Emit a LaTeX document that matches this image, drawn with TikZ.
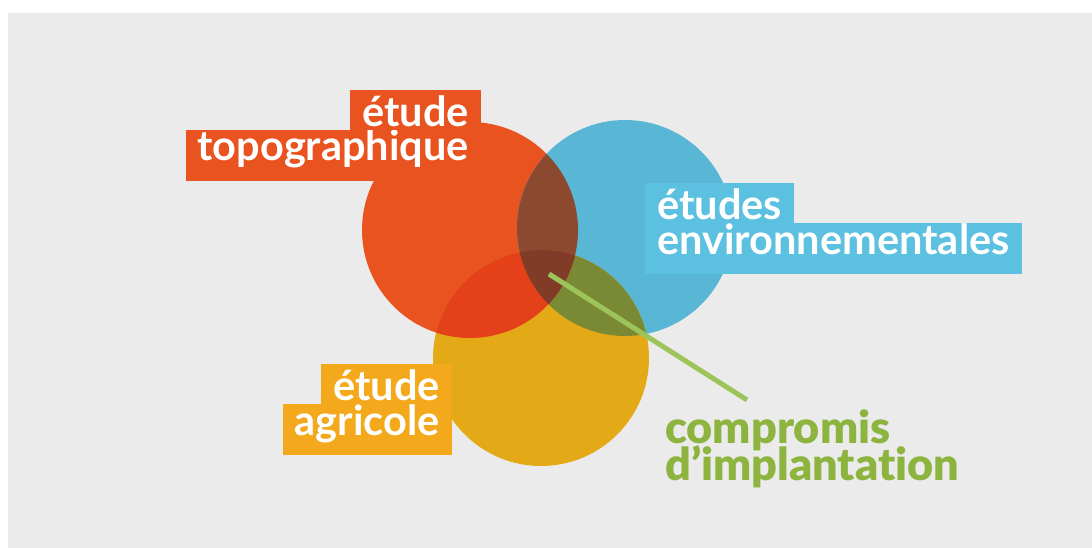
\documentclass[tikz,border=0pt]{standalone}
\usepackage{fontspec}
\setmainfont{Lato}
\newfontfamily\heavyfont{Lato Black}[Ligatures={NoCommon}]
\usetikzlibrary{positioning}

\definecolor{bgGray}{HTML}{EBEBEB}
\definecolor{topoOrange}{HTML}{E8531F}
\definecolor{envBlue}{HTML}{5AB6D5}
\definecolor{envBox}{HTML}{5CC0E0}
\definecolor{agriYellow}{HTML}{E4A916}
\definecolor{agriBox}{HTML}{F3A91B}
\definecolor{topoEnv}{HTML}{8B4A30}
\definecolor{topoAgri}{HTML}{E4401A}
\definecolor{envAgri}{HTML}{7A8A34}
\definecolor{allThree}{HTML}{803C26}
\definecolor{compGreen}{HTML}{8CB43F}
\definecolor{lineGreen}{HTML}{9DC45A}

\tikzset{
  tagline/.style={inner xsep=12pt, inner ysep=0pt, text=white,
    font=\fontsize{41.5}{41.5}\selectfont\bfseries},
  tagtop/.style={tagline, text height=37pt, text depth=3pt},
  tagbottom/.style={tagline, text height=31pt, text depth=20pt},
  greentext/.style={inner sep=0pt, text=compGreen,
    font=\fontsize{45}{45}\selectfont\heavyfont}
}

\begin{document}
\begin{tikzpicture}[x=1pt, y=-1pt]
    \useasboundingbox (0,0) rectangle (1092,548);
    \fill[white] (0,0) rectangle (1092,548);
    \fill[bgGray] (8,13) rectangle (1092,548);

    \coordinate (topoC) at (470,230);
    \coordinate (envC) at (625,228);
    \coordinate (agriC) at (541,358);

    % the three circles
    \fill[topoOrange] (topoC) circle (108pt);
    \fill[envBlue] (envC) circle (108pt);
    \fill[agriYellow] (agriC) circle (108pt);

    % overlaps
    \begin{scope}
      \clip (envC) circle (108pt);
      \fill[envAgri] (agriC) circle (108pt);
    \end{scope}
    \begin{scope}
      \clip (topoC) circle (108pt);
      \fill[topoEnv] (envC) circle (108pt);
      \fill[topoAgri] (agriC) circle (108pt);
      \clip (envC) circle (108pt);
      \fill[allThree] (agriC) circle (108pt);
    \end{scope}

    \node[tagbottom, fill=topoOrange, anchor=base east] (topoB) at (481,161) {topographique};
    \node[tagtop, fill=topoOrange, above=0pt of topoB.north east, anchor=south east] (topoA) {étude};

    \node[tagbottom, fill=envBox, anchor=base west] (envB) at (645,254) {environnementales};
    \node[tagtop, fill=envBox, above=0pt of envB.north west, anchor=south west] (envA) {études};

    \node[tagbottom, fill=agriBox, anchor=base east] (agriB) at (452,435) {agricole};
    \node[tagtop, fill=agriBox, above=0pt of agriB.north east, anchor=south east] (agriA) {étude};

    \node[greentext, anchor=base west] (compA) at (665,443) {compromis};
    \node[greentext, anchor=base west] (compB) at (665,480) {d’implantation};

    \coordinate (lineStart) at (549,274);
    \coordinate (lineEnd) at (747,400);
    \draw[lineGreen, line width=5pt] (lineStart) -- (lineEnd);
  \end{tikzpicture}
\end{document}
